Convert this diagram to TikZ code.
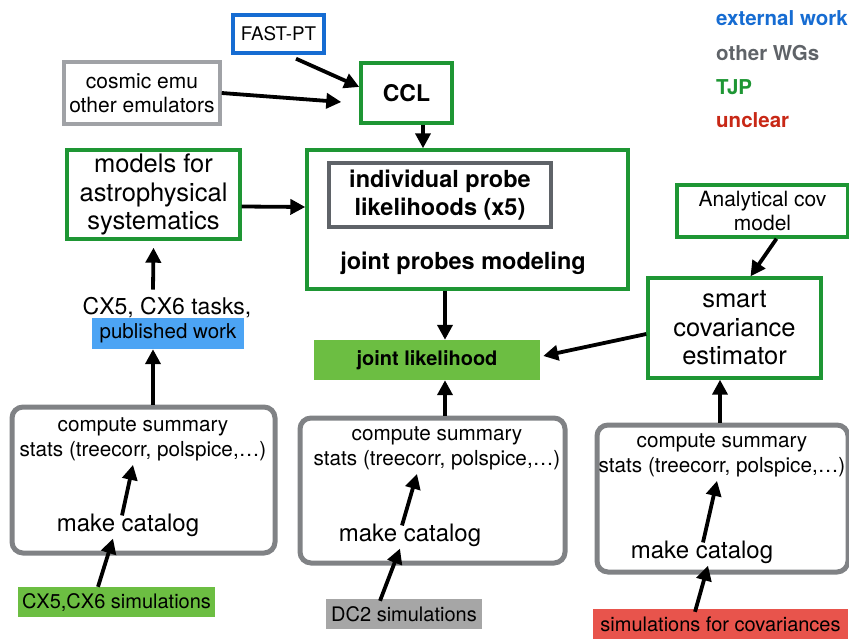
\documentclass[tikz,border=0pt]{standalone}
\usepackage{fontspec}
\setmainfont{TeX Gyre Heros}
\usetikzlibrary{arrows.meta}
\definecolor{tjpgreen}{RGB}{30,150,52}
\definecolor{extblue}{RGB}{22,108,210}
\definecolor{wggray}{RGB}{95,99,104}
\definecolor{emugray}{RGB}{160,162,166}
\definecolor{pipegray}{RGB}{128,130,133}
\definecolor{unclearred}{RGB}{200,40,22}
\definecolor{simgreen}{RGB}{108,190,66}
\definecolor{pubblue}{RGB}{76,164,244}
\definecolor{dcgray}{RGB}{166,166,166}
\definecolor{covred}{RGB}{232,84,76}
\tikzset{
  sketch/.style={draw, line width=3.4pt, inner sep=0pt, align=center},
  tjp/.style={sketch, draw=tjpgreen},
  extwork/.style={sketch, draw=extblue},
  otherwg/.style={sketch, draw=wggray},
  pipe/.style={draw=pipegray, line width=5pt, rounded corners=11pt, inner sep=0pt},
  fillbox/.style={inner sep=0pt, align=center},
  legend/.style={anchor=west, inner sep=0pt, font=\bfseries\fontsize{20.5}{24}\selectfont},
  arr/.style={line width=3.8pt, -{Triangle[length=15pt,width=15pt]}},
  txt/.style={inner sep=0pt, align=center, font=\fontsize{20.7}{25}\selectfont},
  bigtxt/.style={font=\fontsize{25.5}{28.5}\selectfont},
  boldtxt/.style={font=\bfseries\fontsize{23.5}{28}\selectfont},
}
\begin{document}
\begin{tikzpicture}[x=1pt,y=-1pt]
\useasboundingbox (0,0) rectangle (849,639);
% legend
\node[legend, text=extblue] (lext) at (716,18) {external work};
\node[legend, text=wggray] (lwg) at (716,53) {other WGs};
\node[legend, text=tjpgreen] (ltjp) at (716,87) {TJP};
\node[legend, text=unclearred] (lunc) at (716,120) {unclear};
% top row
\node[extwork, minimum width=91, minimum height=38, font=\fontsize{18.8}{22}\selectfont] (fastpt) at (278.5,34) {FAST-PT};
\node[sketch, draw=emugray, minimum width=156, minimum height=62, font=\fontsize{21}{24}\selectfont] (emu) at (142,93) {cosmic emu\\other emulators};
\node[tjp, minimum width=91, minimum height=60, font=\bfseries\fontsize{23}{26}\selectfont] (ccl) at (406.5,93) {CCL};
\node[tjp, minimum width=173, minimum height=89, bigtxt] (models) at (153.5,194.5) {models for\\astrophysical\\systematics};
\node[tjp, minimum width=321, minimum height=139] (joint) at (467.5,219.5) {};
\node[otherwg, minimum width=222, minimum height=64, boldtxt] (indiv) at (440,195) {individual probe\\likelihoods (x5)};
\node[txt, boldtxt] (jmod) at (463,263) {joint probes modeling};
\node[fillbox, fill=simgreen, minimum width=226, minimum height=40, font=\bfseries\fontsize{20}{22}\selectfont] (jl) at (427,360) {joint likelihood};
\node[tjp, minimum width=171, minimum height=52, font=\fontsize{21}{24}\selectfont] (analytic) at (762.5,211) {Analytical cov\\model};
\node[tjp, minimum width=173, minimum height=100, bigtxt] (smart) at (734.5,328) {smart\\covariance\\estimator};
\node[txt, font=\fontsize{23}{28}\selectfont] (tasks) at (167,308) {CX5, CX6 tasks,};
\node[fillbox, fill=pubblue, minimum width=152, minimum height=31, font=\fontsize{20.5}{24}\selectfont] (published) at (168,333.5) {published work};
% pipelines
\node[pipe, minimum width=263, minimum height=146] (pipeA) at (143.5,480) {};
\node[txt] (compA) at (143,439) {compute summary\\stats (treecorr, polspice,\dots)};
\node[txt, font=\fontsize{24}{28}\selectfont] (makeA) at (128,525) {make catalog};
\node[fillbox, fill=simgreen, minimum width=197, minimum height=30, font=\fontsize{20}{24}\selectfont] (simA) at (116.5,602) {CX5,CX6 simulations};
\node[pipe, minimum width=265, minimum height=145] (pipeB) at (432.5,490.5) {};
\node[txt] (compB) at (437,448) {compute summary\\stats (treecorr, polspice,\dots)};
\node[txt, font=\fontsize{24}{28}\selectfont] (makeB) at (410,535) {make catalog};
\node[fillbox, fill=dcgray, minimum width=156, minimum height=30, font=\fontsize{20}{24}\selectfont] (simB) at (404,614) {DC2 simulations};
\node[pipe, minimum width=251, minimum height=147] (pipeC) at (722.5,498.5) {};
\node[txt] (compC) at (722,455) {compute summary\\stats (treecorr, polspice,\dots)};
\node[txt, font=\fontsize{24}{28}\selectfont] (makeC) at (702,552) {make catalog};
\node[fillbox, fill=covred, minimum width=255, minimum height=30, font=\fontsize{20}{24}\selectfont] (simC) at (720.5,624) {simulations for covariances};
% arrows
\draw[arr] ([xshift=17.5pt,yshift=-4pt]fastpt.south) -- ([yshift=6pt]ccl.west);
\draw[arr] (emu.east) -- ([xshift=-18pt,yshift=-9pt]ccl.west);
\draw[arr] ([xshift=16.5pt]ccl.south) -- ([xshift=-44.5pt]joint.north);
\draw[arr] ([yshift=-12pt]models.east) -- ([yshift=12.5pt]joint.west);
\draw[arr] ([xshift=-22.5pt]joint.south) -- ([xshift=18pt]jl.north);
\draw[arr] ([xshift=14pt]analytic.south) -- ([xshift=16pt]smart.north);
\draw[arr] ([yshift=-6pt]smart.west) -- ([xshift=3pt,yshift=4pt]jl.east);
\draw[arr] ([xshift=-14pt,yshift=8pt]tasks.north) -- ([yshift=-7pt]models.south);
\draw[arr] ([xshift=9.5pt]pipeA.north) -- ([xshift=-15pt]published.south);
\draw[arr] ([xshift=12.5pt]pipeB.north) -- ([xshift=18pt]jl.south);
\draw[arr] ([xshift=-2.5pt]pipeC.north) -- ([xshift=-14.5pt]smart.south);
\draw[arr] ([xshift=-6pt,yshift=-2pt]makeA.north) -- ([xshift=-10pt,yshift=-4pt]compA.south);
\draw[arr] ([xshift=-18.5pt]simA.north) -- ([xshift=-15pt,yshift=-2pt]makeA.south);
\draw[arr] ([xshift=-8pt,yshift=-2pt]makeB.north) -- ([xshift=-20pt,yshift=-4pt]compB.south);
\draw[arr] ([xshift=-24pt,yshift=-2pt]simB.north) -- ([xshift=-10pt,yshift=-2pt]makeB.south);
\draw[arr] ([xshift=1pt,yshift=-2pt]makeC.north) -- ([xshift=-5pt,yshift=-4pt]compC.south);
\draw[arr] ([xshift=-25.5pt,yshift=-3pt]simC.north) -- ([xshift=6pt,yshift=-2pt]makeC.south);
\end{tikzpicture}
\end{document}
